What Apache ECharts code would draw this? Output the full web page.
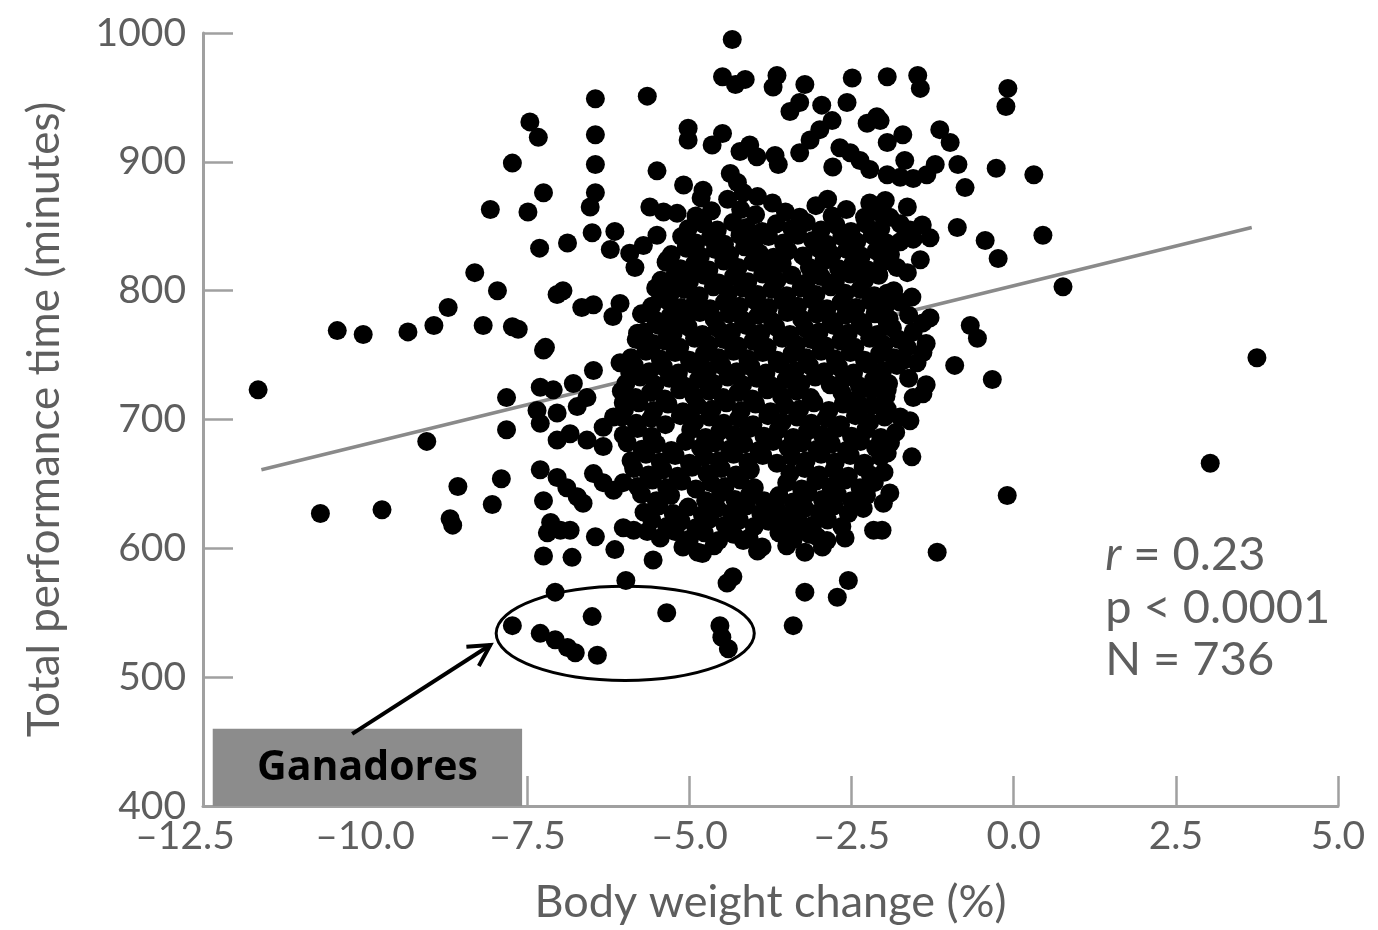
<!DOCTYPE html>
<html>
<head>
<meta charset="utf-8">
<script src="https://cdn.jsdelivr.net/npm/echarts@6/dist/echarts.min.js"></script>
<style>
html,body{margin:0;padding:0;background:#fff;overflow:hidden;}
#chart{width:1378px;height:930px;}
</style>
</head>
<body>
<div id="chart"></div>
<script>
// ---- data ----
const xTicks = [-12.5, -10.0, -7.5, -5.0, -2.5, 0.0, 2.5, 5.0];
const yTicks = [400, 500, 600, 700, 800, 900, 1000];
const xTitle = 'Body weight change (%)';
const yTitle = 'Total performance time (minutes)';
const statLines = ['r = 0.23', 'p < 0.0001', 'N = 736'];
const winnersLabel = 'Ganadores';

// regression line end points
const regX = [-11.6, 3.67];
const regY = [661, 849];

const ptsLeft = [
[-11.65,723],[-10.69,627],[-10.43,769],[-10.03,766],[-9.74,630],[-9.34,768],[-9.05,683],[-8.94,773],
[-8.72,787],[-8.69,623],[-8.65,618],[-8.57,648],[-8.31,814],[-8.18,773],[-8.07,863],[-8.04,634],
[-7.96,800],[-7.90,654],[-7.82,717],[-7.82,692],[-7.73,772],[-7.64,770],[-7.73,899]
];
const ptsWinners = [
[-7.73,540],[-7.30,534],[-7.07,529],[-6.88,523],[-6.76,519],[-6.42,517],[-6.50,547],[-5.35,550],
[-4.53,540],[-4.50,531],[-4.40,522]
];
const ptsLowerLeft = [
[-7.07,566],[-5.98,575],[-7.25,594],[-6.81,593],[-6.15,599],[-5.56,591],[-6.45,609],[-6.02,616],
[-5.86,614],[-5.65,613],[-7.14,620],[-7.19,612],[-6.99,614],[-6.84,614],[-7.25,637],[-7.30,661],
[-7.04,655],[-6.89,647],[-6.73,640],[-6.64,635],[-6.48,658],[-6.33,651],[-6.17,645],[-6.02,651],
[-7.04,684],[-6.84,689],[-6.58,684],[-6.33,694],[-6.17,702],[-6.02,713],[-6.33,679],[-7.35,707],
[-7.30,697],[-7.04,705],[-6.73,710],[-7.30,725],[-7.10,723],[-6.79,728],[-6.58,717],[-6.48,738],
[-6.07,744],[-5.92,736],[-7.25,754]
];
const ptsUpperLeft = [
[-6.45,949],[-5.65,951],[-7.46,931],[-7.33,919],[-6.45,921],[-5.02,926],[-5.02,917],[-6.45,898],
[-5.50,893],[-6.45,876],[-6.53,865],[-7.25,876],[-7.49,861],[-5.09,882],[-5.61,865],[-5.40,861],
[-5.19,860],[-6.50,845],[-6.15,846],[-6.22,832],[-5.92,829],[-5.84,818],[-5.71,835],[-5.50,843],
[-5.34,824],[-6.88,837],[-7.31,833],[-7.04,797],[-6.95,800],[-6.66,787],[-6.48,789],[-6.07,790],
[-6.18,780],[-7.22,756],[-5.65,783],[-5.45,798],[-5.25,803],[-5.03,814],[-5.80,767],[-5.56,759],
[-5.30,772],[-5.03,783]
];
const ptsUpper = [
[-4.34,995],[-4.49,966],[-4.29,960],[-4.14,964],[-3.65,967],[-3.71,958],[-3.22,960],[-2.49,965],
[-2.57,946],[-3.45,939],[-3.30,946],[-2.96,944],[-2.80,932],[-2.26,930],[-2.11,935],[-4.65,913],
[-4.49,922],[-4.22,908],[-4.07,913],[-3.96,904],[-3.68,905],[-3.63,898],[-3.30,907],[-3.14,917],
[-2.99,925],[-2.79,896],[-2.68,911],[-2.52,907],[-2.37,901],[-2.22,894],[-4.37,891],[-4.26,884],
[-4.17,876],[-4.79,878]
];
const ptsUpperRight = [
[-1.95,966],[-1.48,967],[-1.44,957],[-0.09,957],[-0.12,943],[-2.06,932],[-1.71,921],[-1.95,915],
[-1.14,925],[-0.98,915],[-1.68,901],[-1.21,898],[-0.86,898],[-0.75,880],[-0.27,895],[0.31,890],
[-1.95,890],[-1.75,888],[-1.55,887],[-1.34,890],[-1.98,870],[-1.64,865],[-1.91,857],[-1.75,852],
[-1.41,851],[-1.29,841],[-0.87,849],[-0.44,839],[-0.24,825],[0.45,843],[-1.75,838],[-1.44,824],
[-1.80,818],[-1.64,814],[0.76,803],[-1.57,795],[-1.95,798],[-1.95,775],[-1.40,775],[-1.29,779],
[-0.67,773],[-0.56,763],[-1.64,756]
];
const ptsRight = [
[-0.91,742],[-0.33,731],[-1.95,723],[-1.55,717],[-1.75,702],[-1.95,674],[-1.57,671],[-1.91,643],
[-2.01,635],[-0.10,641],[-2.03,614],[-1.18,597],[-1.70,746],[-1.49,744],[3.75,748],[3.03,666],
[-2.21,657],[-2.16,614],[-4.17,606],[-3.88,601],[-2.88,606],[-4.80,596],[-4.42,573],[-4.33,578],
[-3.22,566],[-2.72,562],[-2.55,575],[-3.40,540],[-3.60,620],[-3.30,616],[-3.03,609]
];
const ptsCoreTop = [
[-4.82,872],[-4.41,871],[-3.95,873],[-3.72,868],[-3.05,866],[-2.87,871],[-2.22,868],
[-4.90,858],[-4.66,862],[-4.21,863],[-3.98,859],[-3.52,861],[-3.30,857],[-2.80,858],[-2.58,863],[-2.30,857],[-2.08,861],
[-5.02,848],[-4.79,852],[-4.57,847],[-4.33,853],[-4.12,849],[-3.88,846],[-3.66,852],[-3.42,848],[-3.20,853],[-2.97,847],[-2.74,851],[-2.51,846],[-2.28,852],[-2.05,848],[-1.60,847],
[-5.12,842],[-4.90,837],[-4.68,841],[-4.46,836],[-4.22,843],[-4.00,838],[-3.78,842],[-3.55,837],[-3.33,843],[-3.10,839],[-2.88,836],[-2.65,842],[-2.42,838],[-2.18,843],[-1.96,837],[-1.55,840],
[-5.28,828],[-5.05,833],[-4.83,827],[-4.60,832],[-4.38,828],[-4.15,834],[-3.92,829],[-3.70,826],[-3.48,831],[-3.25,827],[-3.02,833],[-2.80,828],[-2.57,832],[-2.35,827],[-2.12,831],[-1.90,828],
[-5.36,822],[-5.14,817],[-4.92,821],[-4.70,816],[-4.47,823],[-4.25,818],[-4.02,822],[-3.80,817],[-3.57,821],[-3.15,818],[-2.93,823],[-2.70,817],[-2.48,821],[-2.25,816],[-2.02,822],
[-5.44,808],[-5.22,813],[-5.00,807],[-4.77,812],[-4.55,806],[-4.32,811],[-4.10,807],[-3.87,813],[-3.65,808],[-3.42,812],[-3.20,806],[-2.97,811],[-2.75,807],[-2.52,813],[-2.30,808],[-2.08,812]
];
const ptsCoreMid = [
[-5.52,802],[-5.30,797],[-5.08,801],[-4.85,796],[-4.63,803],[-4.40,798],[-4.18,802],[-3.95,797],[-3.73,801],[-3.50,796],[-3.28,802],[-3.05,797],[-2.82,803],[-2.60,798],[-2.37,801],[-2.15,796],[-1.85,800],
[-5.58,788],[-5.36,793],[-5.13,787],[-4.91,792],[-4.68,786],[-4.46,791],[-4.23,788],[-4.01,793],[-3.78,787],[-3.56,792],[-3.33,788],[-3.11,793],[-2.88,786],[-2.66,791],[-2.43,787],[-2.21,792],[-1.98,788],[-1.75,791],
[-5.74,782],[-5.52,777],[-5.29,781],[-5.07,776],[-4.84,783],[-4.62,778],[-4.39,782],[-4.17,777],[-3.94,781],[-3.72,776],[-3.49,783],[-3.27,778],[-3.04,782],[-2.82,777],[-2.59,781],[-2.37,776],[-2.14,782],[-1.92,778],[-1.62,781],
[-5.70,768],[-5.47,773],[-5.25,767],[-5.02,772],[-4.80,766],[-4.57,771],[-4.35,768],[-4.12,773],[-3.90,767],[-3.67,772],[-3.45,766],[-3.22,771],[-3.00,768],[-2.77,773],[-2.55,767],[-2.32,772],[-2.10,766],[-1.87,771],[-1.55,768],
[-5.82,762],[-5.60,757],[-5.37,761],[-5.15,756],[-4.92,763],[-4.70,758],[-4.47,762],[-4.25,757],[-4.02,761],[-3.80,756],[-3.57,763],[-3.35,758],[-3.12,762],[-2.90,757],[-2.67,761],[-2.45,756],[-2.22,763],[-2.00,758],[-1.77,762],[-1.35,759],
[-5.90,748],[-5.67,753],[-5.45,747],[-5.22,752],[-5.00,746],[-4.77,751],[-4.55,748],[-4.32,753],[-4.10,747],[-3.87,752],[-3.65,746],[-3.42,751],[-3.20,748],[-2.97,753],[-2.75,747],[-2.52,752],[-2.30,746],[-2.07,751],[-1.85,748],[-1.40,752],
[-5.85,742],[-5.62,737],[-5.40,741],[-5.17,736],[-4.95,743],[-4.72,738],[-4.50,742],[-4.27,737],[-4.05,741],[-3.82,736],[-3.60,743],[-3.37,738],[-3.15,742],[-2.92,737],[-2.70,741],[-2.47,736],[-2.25,743],[-2.02,738],[-1.80,742]
];
const ptsCoreLow = [
[-5.98,728],[-5.76,733],[-5.53,727],[-5.31,732],[-5.08,726],[-4.86,731],[-4.63,728],[-4.41,733],[-4.18,727],[-3.96,732],[-3.73,726],[-3.51,731],[-3.28,728],[-3.06,733],[-2.83,727],[-2.61,732],[-2.38,726],[-2.16,731],[-1.93,728],[-1.62,732],[-1.35,727],
[-6.05,722],[-5.83,717],[-5.60,721],[-5.38,716],[-5.15,723],[-4.93,718],[-4.70,722],[-4.48,717],[-4.25,721],[-4.03,716],[-3.80,723],[-3.58,718],[-3.35,722],[-3.13,717],[-2.65,721],[-2.42,716],[-2.20,723],[-1.97,718],[-1.40,720],
[-6.00,708],[-5.78,713],[-5.55,707],[-5.33,712],[-5.10,706],[-4.88,711],[-4.65,708],[-4.43,713],[-4.20,707],[-3.98,712],[-3.75,706],[-3.53,711],[-3.30,708],[-3.08,713],[-2.85,707],[-2.63,712],[-2.40,706],[-2.18,711],[-1.95,708],
[-6.04,702],[-5.82,697],[-5.59,701],[-5.37,696],[-5.14,703],[-4.92,698],[-4.69,702],[-4.47,697],[-4.24,701],[-4.02,696],[-3.79,703],[-3.57,698],[-3.34,702],[-3.12,697],[-2.89,701],[-2.67,696],[-2.44,703],[-2.22,698],[-1.99,702],[-1.60,699],
[-6.02,688],[-5.80,693],[-5.58,687],[-4.98,692],[-4.75,686],[-4.53,691],[-4.30,688],[-4.08,693],[-3.85,687],[-3.63,692],[-3.40,686],[-3.18,691],[-2.95,688],[-2.73,693],[-2.50,687],[-2.28,692],[-2.05,686],[-1.82,690],
[-5.96,682],[-5.73,677],[-5.51,681],[-5.28,676],[-5.06,683],[-4.83,678],[-4.61,682],[-4.38,677],[-4.16,681],[-3.93,676],[-3.71,683],[-3.48,678],[-3.26,682],[-3.03,677],[-2.81,681],[-2.58,676],[-2.36,683],[-2.13,678],[-1.90,682]
];
const ptsCoreBottom = [
[-5.90,668],[-5.67,673],[-5.45,667],[-5.22,672],[-5.00,666],[-4.77,671],[-4.55,668],[-4.32,673],[-4.10,667],[-3.87,672],[-3.65,666],[-3.42,671],[-3.20,668],[-2.97,673],[-2.75,667],[-2.52,672],[-2.30,666],[-2.05,671],
[-5.86,662],[-5.63,657],[-5.41,661],[-5.18,656],[-4.96,663],[-4.73,658],[-4.51,662],[-4.28,657],[-4.06,661],[-3.45,658],[-3.22,662],[-3.00,657],[-2.77,661],[-2.55,656],[-2.32,663],[-2.00,659],
[-5.80,648],[-5.57,653],[-5.35,647],[-5.12,652],[-4.90,646],[-4.67,651],[-4.45,648],[-4.22,653],[-4.00,647],[-3.50,651],[-3.27,646],[-3.05,652],[-2.82,648],[-2.60,653],[-2.37,647],[-2.15,651],
[-5.74,642],[-5.51,637],[-5.29,641],[-4.75,637],[-4.52,643],[-4.30,638],[-4.07,642],[-3.85,637],[-3.62,641],[-3.40,636],[-3.17,643],[-2.95,638],[-2.72,642],[-2.50,637],[-2.27,641],
[-5.70,628],[-5.47,633],[-5.25,627],[-5.02,632],[-4.80,626],[-4.57,631],[-4.35,628],[-4.12,633],[-3.90,627],[-3.67,632],[-3.45,626],[-3.22,631],[-3.00,628],[-2.77,633],[-2.55,627],[-2.32,631],
[-5.58,622],[-5.35,617],[-5.13,621],[-4.90,616],[-4.68,623],[-4.45,618],[-4.23,622],[-4.00,617],[-3.78,621],[-3.55,616],[-3.33,623],[-3.10,618],[-2.87,622],[-2.65,617],
[-5.45,608],[-5.22,613],[-5.00,607],[-4.77,612],[-4.55,606],[-4.32,611],[-4.08,608],[-3.62,612],[-3.40,607],[-3.15,611],[-2.60,608],
[-5.10,601],[-4.87,597],[-4.62,602],[-3.95,598],[-3.50,602],[-3.22,597],[-2.95,601]
];

const allPoints = [].concat(ptsLeft, ptsWinners, ptsLowerLeft, ptsUpperLeft, ptsUpper,
  ptsUpperRight, ptsRight, ptsCoreTop, ptsCoreMid, ptsCoreLow, ptsCoreBottom);

// ---- chart ----
const GRAY_AXIS = '#a0a0a0';
const GRAY_TEXT = '#5e5e5e';
const FONT = 'Lato, "DejaVu Sans", sans-serif';

const chart = echarts.init(document.getElementById('chart'), null,
  {renderer: 'canvas', width: 1378, height: 930});

function fmtX(v) {
  const s = Math.abs(v).toFixed(1);
  const t = v < 0 ? '\u2013' + s : s;
  return v === xTicks[0] ? '{first|' + t + '}' : t;
}

const option = {
  animation: false,
  backgroundColor: '#ffffff',
  grid: {left: 203, width: 1135, top: 33, height: 779, containLabel: false},
  xAxis: {
    type: 'value', min: xTicks[0], max: xTicks[xTicks.length - 1], interval: 2.5,
    name: xTitle, nameLocation: 'middle', nameGap: 74,
    nameTextStyle: {fontFamily: FONT, fontSize: 45, color: GRAY_TEXT},
    axisLine: {show: true, onZero: false, lineStyle: {color: GRAY_AXIS, width: 3}},
    axisTick: {show: true, inside: true, length: 30, lineStyle: {color: GRAY_AXIS, width: 2.5}},
    axisLabel: {
      formatter: fmtX, fontFamily: FONT, fontSize: 39, color: GRAY_TEXT, margin: 11,
      rich: {first: {fontFamily: FONT, fontSize: 39, color: GRAY_TEXT, padding: [0, 36, 0, 0]}}
    },
    splitLine: {show: false}
  },
  yAxis: {
    type: 'value', min: yTicks[0], max: yTicks[yTicks.length - 1], interval: 100,
    name: yTitle, nameLocation: 'middle', nameGap: 136,
    nameTextStyle: {fontFamily: FONT, fontSize: 44, color: GRAY_TEXT},
    axisLine: {show: true, onZero: false, lineStyle: {color: GRAY_AXIS, width: 3}},
    axisTick: {show: true, inside: true, length: 30, lineStyle: {color: GRAY_AXIS, width: 2.5}},
    axisLabel: {formatter: v => String(v), fontFamily: FONT, fontSize: 39, color: GRAY_TEXT, margin: 17},
    splitLine: {show: false}
  },
  series: [
    {
      type: 'line', data: regX.map((x, i) => [x, regY[i]]), symbol: 'none', z: 1,
      lineStyle: {color: '#8a8a8a', width: 3.5}, silent: true
    },
    {
      type: 'scatter', data: allPoints, symbol: 'circle', symbolSize: 19, z: 2,
      itemStyle: {color: '#000000', opacity: 1}, silent: true
    }
  ]
};
chart.setOption(option);

// ---- annotations positioned from data coordinates ----
function px(x, y) { return chart.convertToPixel({gridIndex: 0}, [x, y]); }

const ellC = px(-5.99, 534);
const ellE = px(-5.99 + 1.99, 534 - 36.5);
const arrowFrom = px(-10.2, 456);
const arrowTo = px(-8.07, 525);
const boxA = px(-12.35, 460);
const boxB = px(-7.58, 400);
const statX = px(1.41, 0)[0];
const statYs = [594.7, 553.6, 513.2].map(v => px(0, v)[1]);

const dx = arrowTo[0] - arrowFrom[0], dy = arrowTo[1] - arrowFrom[1];
const ang = Math.atan2(dy, dx);
const headLen = 24, headAng = 0.5;
const h1 = [arrowTo[0] - headLen * Math.cos(ang - headAng), arrowTo[1] - headLen * Math.sin(ang - headAng)];
const h2 = [arrowTo[0] - headLen * Math.cos(ang + headAng), arrowTo[1] - headLen * Math.sin(ang + headAng)];

const statFont = '47px ' + FONT;
chart.setOption({
  graphic: [
    {
      type: 'rect', z: 5,
      shape: {x: boxA[0], y: boxA[1], width: boxB[0] - boxA[0], height: boxB[1] - boxA[1]},
      style: {fill: '#8c8c8c'}
    },
    {
      type: 'text', z: 6,
      style: {
        text: winnersLabel, x: (boxA[0] + boxB[0]) / 2, y: (boxA[1] + boxB[1]) / 2 + 1,
        textAlign: 'center', textVerticalAlign: 'middle',
        font: 'bold 41px "Open Sans", "Noto Sans", sans-serif', fill: '#000000'
      }
    },
    {
      type: 'ellipse', z: 6,
      shape: {cx: ellC[0], cy: ellC[1], rx: ellE[0] - ellC[0], ry: ellE[1] - ellC[1]},
      style: {fill: 'none', stroke: '#000000', lineWidth: 3}
    },
    {
      type: 'line', z: 6,
      shape: {x1: arrowFrom[0], y1: arrowFrom[1], x2: arrowTo[0], y2: arrowTo[1]},
      style: {stroke: '#000000', lineWidth: 4}
    },
    {
      type: 'polyline', z: 6,
      shape: {points: [h1, arrowTo, h2]},
      style: {stroke: '#000000', lineWidth: 4, fill: 'none', lineJoin: 'miter'}
    },
    {
      type: 'text', z: 6,
      style: {
        text: '{i|r} = 0.23', x: statX, y: statYs[0], textVerticalAlign: 'middle',
        font: statFont, fill: GRAY_TEXT,
        rich: {i: {fontStyle: 'italic', fontSize: 47, fontFamily: FONT, fill: GRAY_TEXT}}
      }
    },
    {
      type: 'text', z: 6,
      style: {text: statLines[1], x: statX, y: statYs[1], textVerticalAlign: 'middle', font: statFont, fill: GRAY_TEXT}
    },
    {
      type: 'text', z: 6,
      style: {text: statLines[2], x: statX, y: statYs[2], textVerticalAlign: 'middle', font: statFont, fill: GRAY_TEXT}
    }
  ]
});
</script>
</body>
</html>
